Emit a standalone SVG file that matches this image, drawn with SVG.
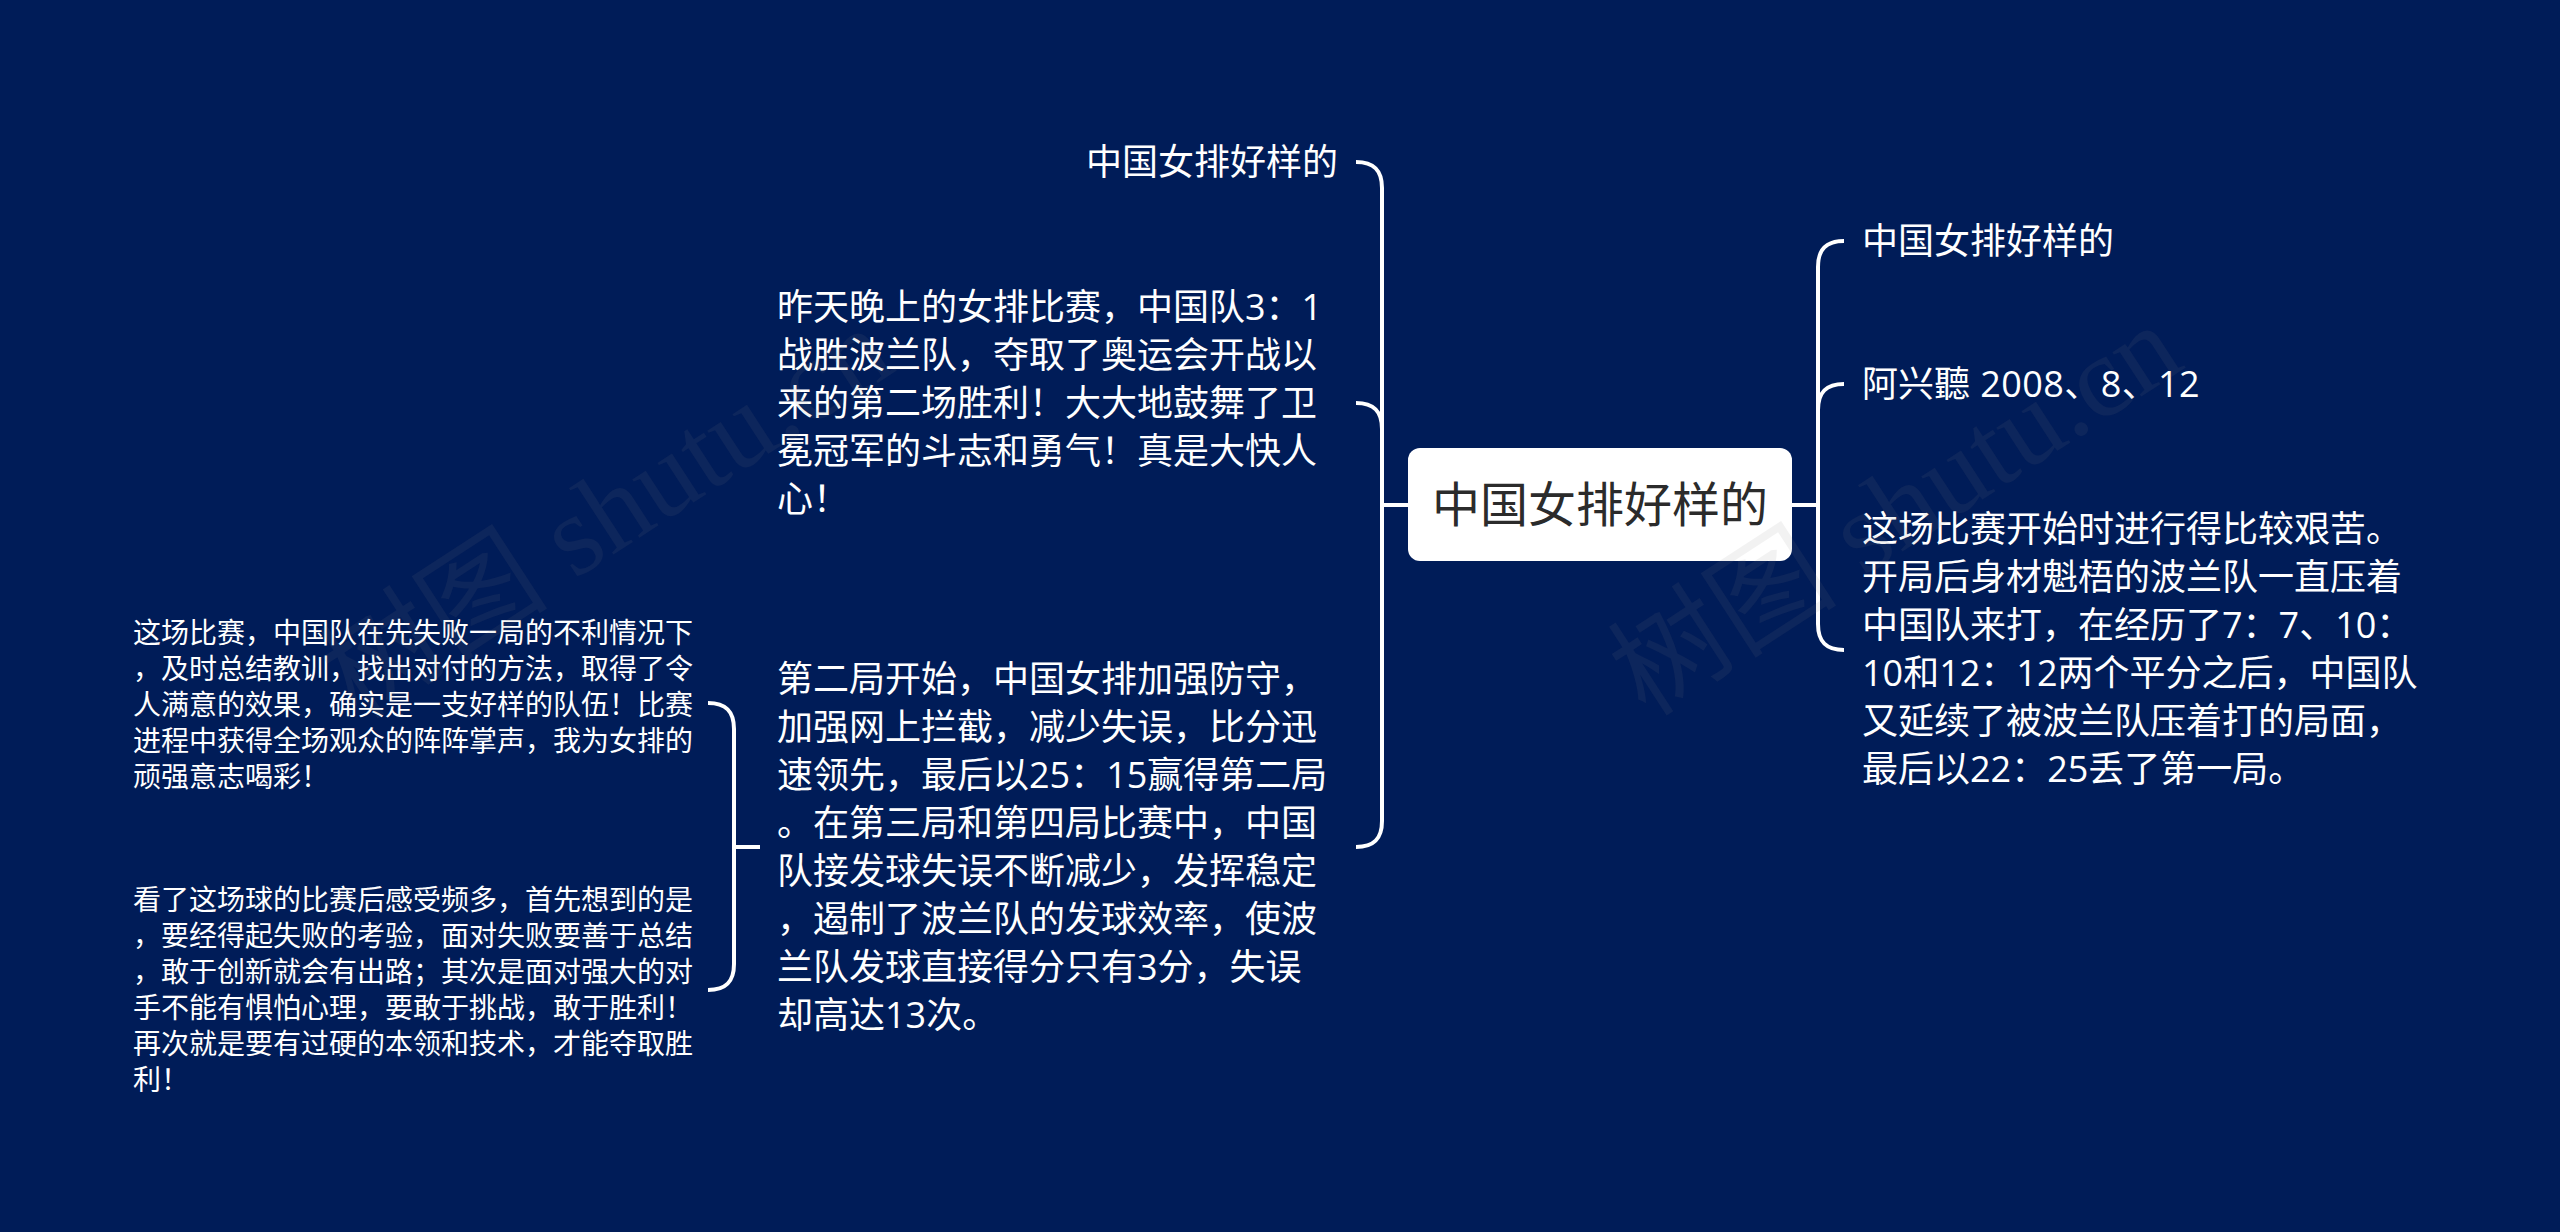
<svg xmlns="http://www.w3.org/2000/svg" width="2560" height="1232" viewBox="0 0 2560 1232">
<style>
text{font-family:"Open Sans","Noto Sans CJK SC",sans-serif;fill:#fff}
.l1{font-size:36px}
.l2{font-size:28px}
.root{font-size:48px;fill:#2b2b2b;text-anchor:middle}
.c{fill:none;stroke:#fff;stroke-width:4}
.wm{font-family:"Liberation Serif","Noto Sans CJK SC",serif;font-size:115px;fill:#808080;fill-opacity:.1}
</style>
<rect width="2560" height="1232" fill="#001c58"/>
<g id="connectors">
<path class="c" d="M1408 505H1382M1356 162C1374 162 1382 170 1382 188V821C1382 839 1374 847 1356 847M1356 403C1374 403 1382 411 1382 429"/>
<path class="c" d="M1792 505H1818M1844 241C1826 241 1818 249 1818 267V624C1818 642 1826 650 1844 650M1844 384C1826 384 1818 392 1818 410"/>
<path class="c" d="M760 847H734M708 703C726 703 734 711 734 729V964C734 982 726 990 708 990"/>
</g>
<g id="root"><rect x="1408" y="448" width="384" height="113" rx="12" fill="#fff"/><text class="root" x="1600" y="522">中国女排好样的</text></g>
<g id="r1"><text class="l1" x="1862" y="254">中国女排好样的</text></g>
<g id="r2"><text class="l1" x="1862" y="397">阿兴聽 <tspan dx="1" letter-spacing=".4">2008、8、12</tspan></text></g>
<g id="r3"><text class="l1">
<tspan x="1862" y="542">这场比赛开始时进行得比较艰苦。</tspan>
<tspan x="1862" y="590">开局后身材魁梧的波兰队一直压着</tspan>
<tspan x="1862" y="638">中国队来打，在经历了7：7、10：</tspan>
<tspan x="1862" y="686">10和12：12两个平分之后，中国队</tspan>
<tspan x="1862" y="734">又延续了被波兰队压着打的局面，</tspan>
<tspan x="1862" y="782">最后以22：25丢了第一局。</tspan>
</text></g>
<g id="l1"><text class="l1" x="1338" y="175" text-anchor="end">中国女排好样的</text></g>
<g id="l2"><text class="l1">
<tspan x="777" y="320">昨天晚上的女排比赛，中国队3：1</tspan>
<tspan x="777" y="368">战胜波兰队，夺取了奥运会开战以</tspan>
<tspan x="777" y="416">来的第二场胜利！大大地鼓舞了卫</tspan>
<tspan x="777" y="464">冕冠军的斗志和勇气！真是大快人</tspan>
<tspan x="777" y="512">心！</tspan>
</text></g>
<g id="l3"><text class="l1">
<tspan x="777" y="692">第二局开始，中国女排加强防守，</tspan>
<tspan x="777" y="740">加强网上拦截，减少失误，比分迅</tspan>
<tspan x="777" y="788">速领先，最后以25：15赢得第二局</tspan>
<tspan x="777" y="836">。在第三局和第四局比赛中，中国</tspan>
<tspan x="777" y="884">队接发球失误不断减少，发挥稳定</tspan>
<tspan x="777" y="932">，遏制了波兰队的发球效率，使波</tspan>
<tspan x="777" y="980">兰队发球直接得分只有3分，失误</tspan>
<tspan x="777" y="1028">却高达13次。</tspan>
</text></g>
<g id="l3a"><text class="l2">
<tspan x="133" y="643">这场比赛，中国队在先失败一局的不利情况下</tspan>
<tspan x="133" y="679">，及时总结教训，找出对付的方法，取得了令</tspan>
<tspan x="133" y="715">人满意的效果，确实是一支好样的队伍！比赛</tspan>
<tspan x="133" y="751">进程中获得全场观众的阵阵掌声，我为女排的</tspan>
<tspan x="133" y="787">顽强意志喝彩！</tspan>
</text></g>
<g id="l3b"><text class="l2">
<tspan x="133" y="910">看了这场球的比赛后感受频多，首先想到的是</tspan>
<tspan x="133" y="946">，要经得起失败的考验，面对失败要善于总结</tspan>
<tspan x="133" y="982">，敢于创新就会有出路；其次是面对强大的对</tspan>
<tspan x="133" y="1018">手不能有惧怕心理，要敢于挑战，敢于胜利！</tspan>
<tspan x="133" y="1054">再次就是要有过硬的本领和技术，才能夺取胜</tspan>
<tspan x="133" y="1090">利！</tspan>
</text></g>
<g id="watermarks">
<text class="wm" transform="translate(1646 718) rotate(-33)">树图 shutu.cn</text>
<text class="wm" transform="translate(357 721) rotate(-33)">树图 shutu.cn</text>
</g>
</svg>
